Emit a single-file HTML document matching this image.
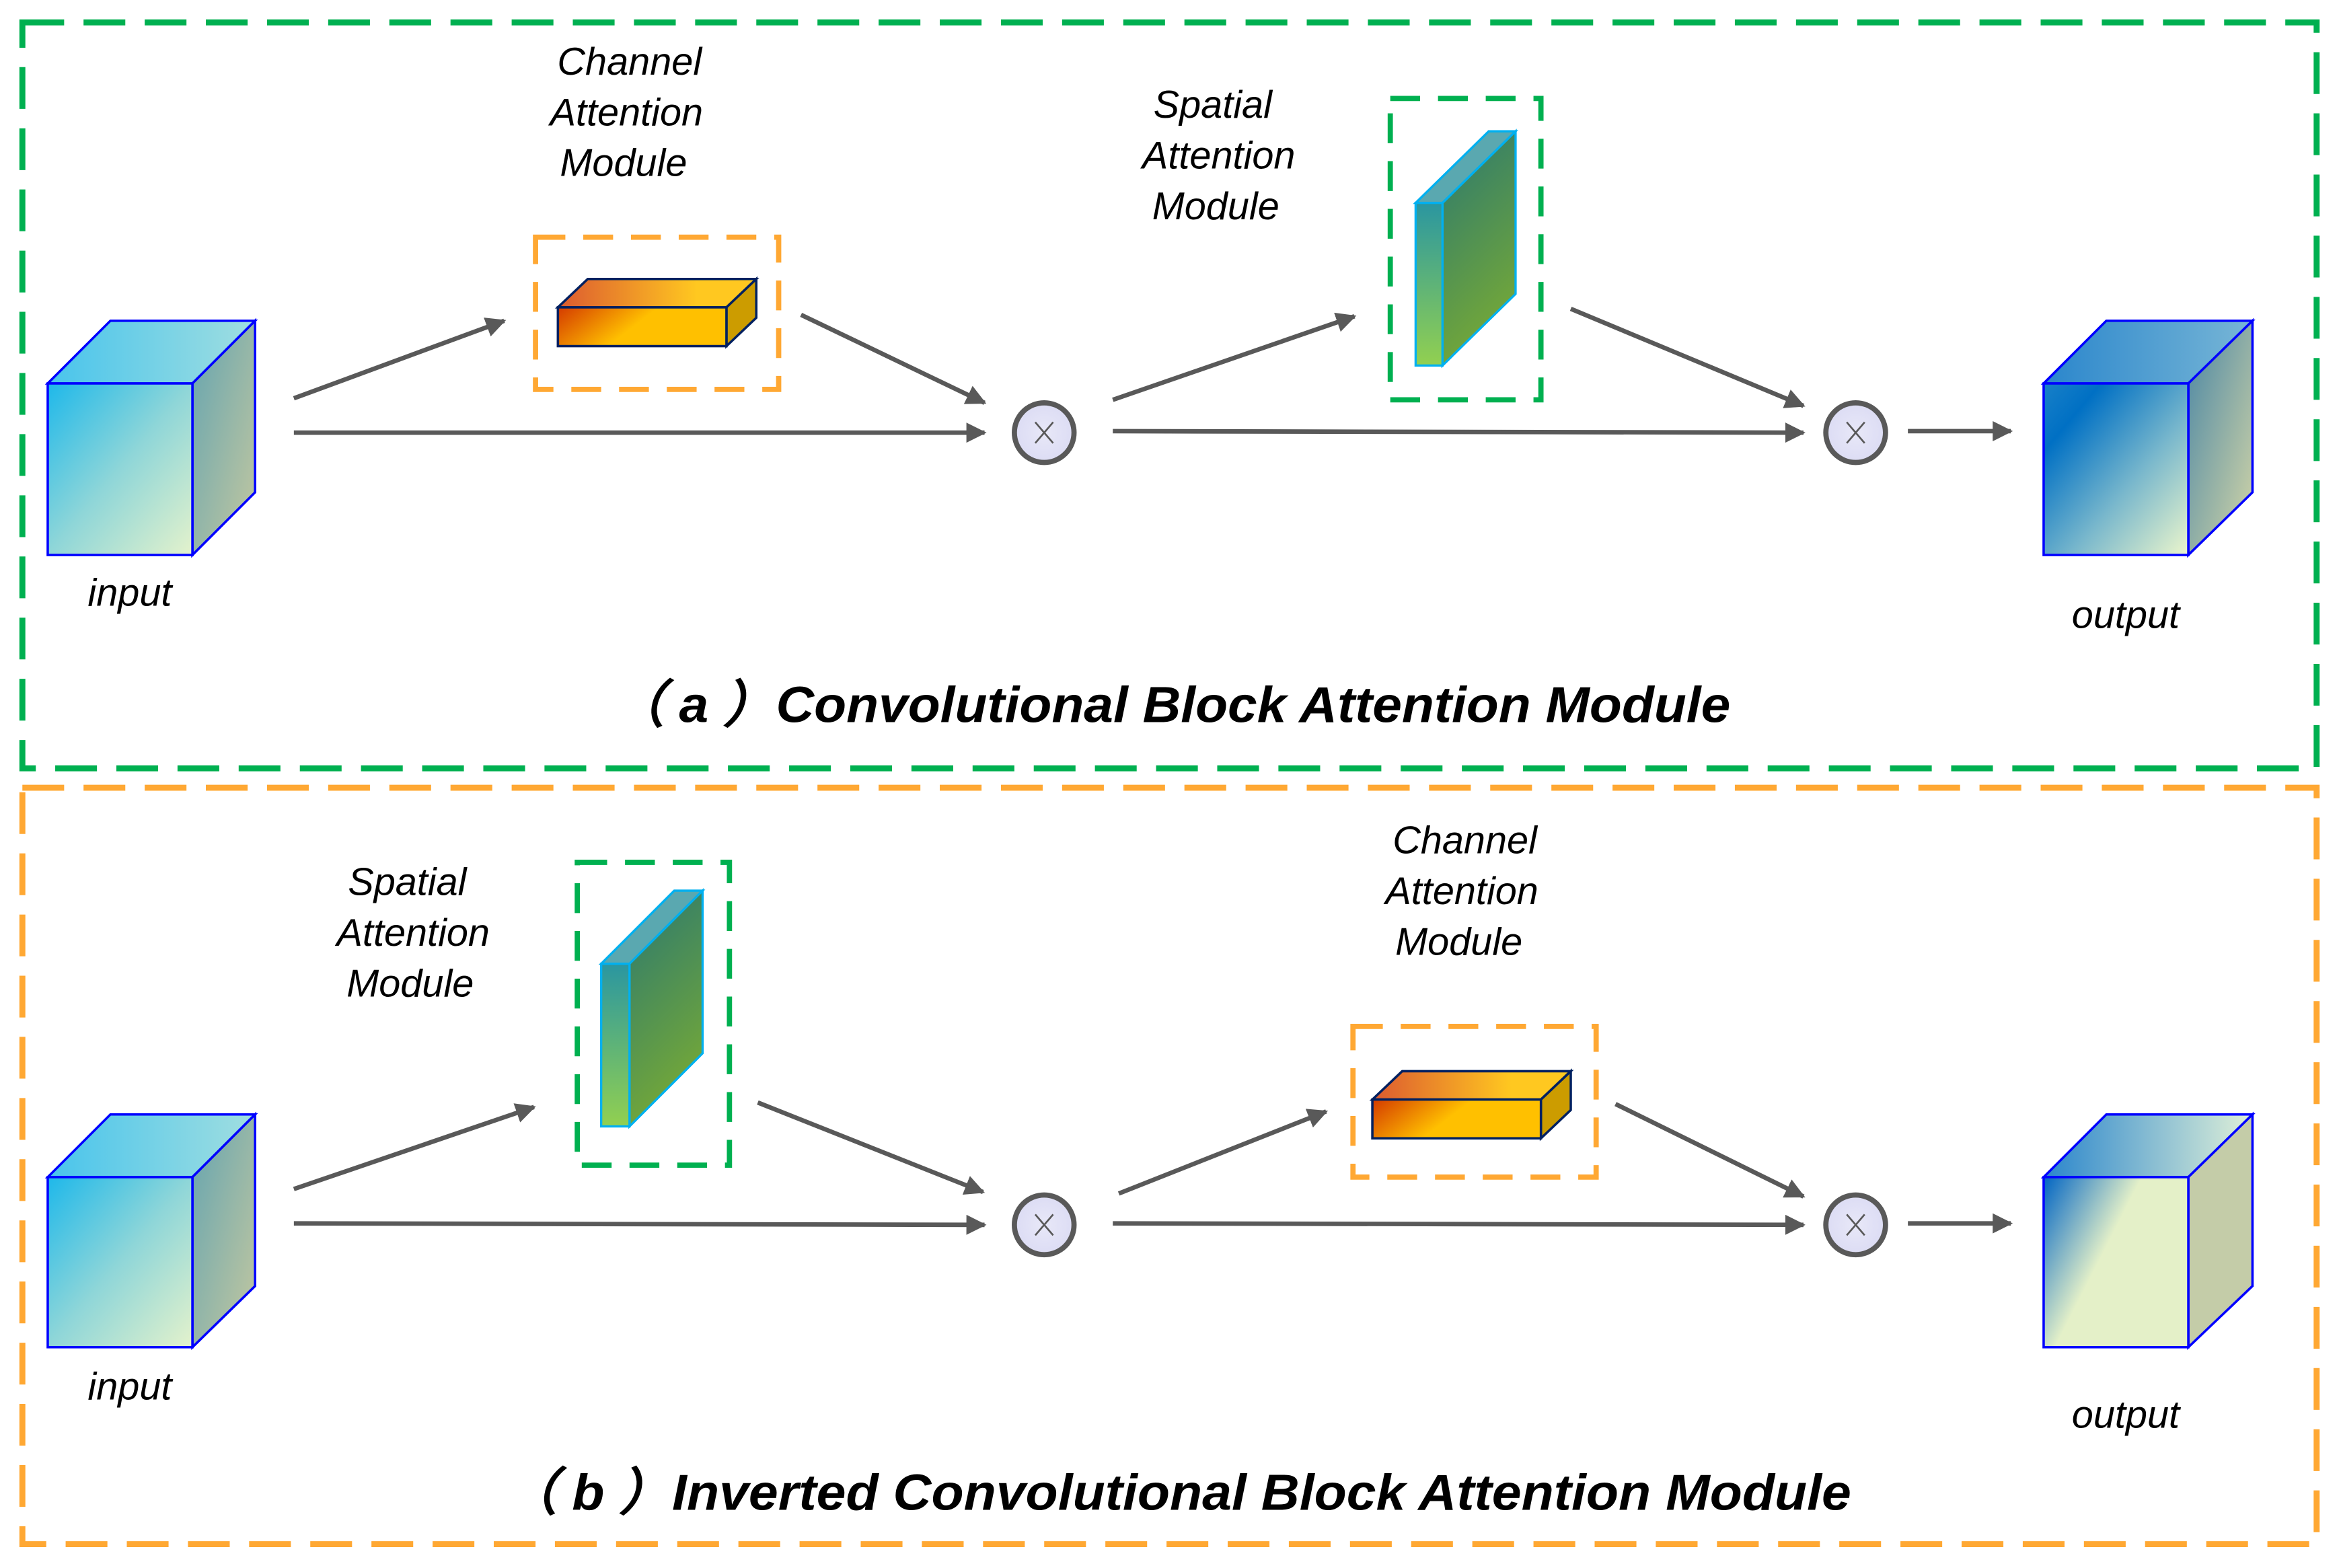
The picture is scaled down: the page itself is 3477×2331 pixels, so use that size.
<!DOCTYPE html>
<html><head><meta charset="utf-8"><style>
html,body{margin:0;padding:0;background:#fff;}
svg{display:block;}
text{font-family:"Liberation Sans",Arial,sans-serif;}
</style></head><body>
<svg width="3477" height="2331" viewBox="0 0 1568 1051" preserveAspectRatio="none" xmlns="http://www.w3.org/2000/svg">
<defs>
<marker id="ah" viewBox="0 0 10 10" refX="9" refY="5" markerWidth="4.5" markerHeight="4.5" orient="auto" markerUnits="strokeWidth">
<path d="M0,0 L10,5 L0,10 z" fill="#595959"/></marker>
<linearGradient id="inF" x1="0" y1="0" x2="1" y2="1"><stop offset="0" stop-color="#1eb8ea"/><stop offset="0.5" stop-color="#8fd6d8"/><stop offset="1" stop-color="#e4f2cc"/></linearGradient>
<linearGradient id="inT" x1="0" y1="0" x2="1" y2="0"><stop offset="0" stop-color="#48c4ec"/><stop offset="1" stop-color="#a0dee0"/></linearGradient>
<linearGradient id="inS" x1="0" y1="0" x2="1" y2="1"><stop offset="0" stop-color="#64a4b0"/><stop offset="1" stop-color="#c4c8a0"/></linearGradient>
<linearGradient id="o1F" x1="0" y1="0" x2="1" y2="1"><stop offset="0" stop-color="#1880c8"/><stop offset="0.2" stop-color="#0070c4"/><stop offset="0.6" stop-color="#7ab8cc"/><stop offset="1" stop-color="#ecf6cc"/></linearGradient>
<linearGradient id="o1T" x1="0" y1="0" x2="1" y2="0"><stop offset="0" stop-color="#2a86cc"/><stop offset="1" stop-color="#78b6d6"/></linearGradient>
<linearGradient id="o1S" x1="0" y1="0" x2="1" y2="1"><stop offset="0" stop-color="#4a86a4"/><stop offset="1" stop-color="#d4d6a8"/></linearGradient>
<linearGradient id="o2F" x1="0" y1="0" x2="1" y2="0.6"><stop offset="0" stop-color="#0064c4"/><stop offset="0.5" stop-color="#e4f0c8"/><stop offset="1" stop-color="#e4f0c8"/></linearGradient>
<linearGradient id="o2T" x1="0" y1="0" x2="1" y2="0"><stop offset="0" stop-color="#2a86cc"/><stop offset="1" stop-color="#e0f0d8"/></linearGradient>
<linearGradient id="caF" x1="0" y1="0" x2="1" y2="0.3"><stop offset="0" stop-color="#d43a00"/><stop offset="0.55" stop-color="#ffc000"/><stop offset="1" stop-color="#ffc000"/></linearGradient>
<linearGradient id="caT" x1="0" y1="0" x2="1" y2="0"><stop offset="0" stop-color="#dc5a30"/><stop offset="0.7" stop-color="#ffc820"/><stop offset="1" stop-color="#ffc820"/></linearGradient>
<linearGradient id="saF" x1="0" y1="0" x2="0" y2="1"><stop offset="0" stop-color="#2a96a0"/><stop offset="1" stop-color="#92d050"/></linearGradient>
<linearGradient id="saS" x1="0" y1="0" x2="0.3" y2="1"><stop offset="0" stop-color="#2a7870"/><stop offset="1" stop-color="#74a838"/></linearGradient>
<radialGradient id="cir"><stop offset="0" stop-color="#e8e8f8"/><stop offset="1" stop-color="#dcdcf4"/></radialGradient>
</defs>

<rect x="15" y="15" width="1538" height="500" fill="none" stroke="#00b050" stroke-width="4" stroke-dasharray="28,13"/>
<rect x="15" y="528" width="1538" height="507" fill="none" stroke="#ffa833" stroke-width="4" stroke-dasharray="28,13"/>

<!-- ===== TOP ===== -->
<g stroke="#0000ff" stroke-width="1.6">
<polygon points="32,257 129,257 171,215 74,215" fill="url(#inT)"/>
<polygon points="129,257 171,215 171,330 129,372" fill="url(#inS)"/>
<rect x="32" y="257" width="97" height="115" fill="url(#inF)"/>
</g>
<text x="87" y="406" font-size="26" font-style="italic" text-anchor="middle">input</text>

<rect x="359" y="159" width="163" height="102" fill="none" stroke="#ffa833" stroke-width="3.5" stroke-dasharray="20,12"/>
<g stroke="#002060" stroke-width="1.6">
<polygon points="374,206 487,206 507,187 394,187" fill="url(#caT)"/>
<polygon points="487,206 507,187 507,213 487,232" fill="#cc9c00"/>
<rect x="374" y="206" width="113" height="26" fill="url(#caF)"/>
</g>
<g font-size="26" font-style="italic" text-anchor="middle">
<text x="422" y="50">Channel</text><text x="420" y="84">Attention</text><text x="418" y="118">Module</text>
<text x="813" y="79">Spatial</text><text x="817" y="113">Attention</text><text x="815" y="147">Module</text>
</g>

<rect x="932" y="66" width="101" height="202" fill="none" stroke="#00b050" stroke-width="3.5" stroke-dasharray="20,12"/>
<g stroke="#00b0f0" stroke-width="1.5">
<polygon points="949,136 967,136 1016,88 998,88" fill="#5aa8b0"/>
<polygon points="967,136 1016,88 1016,197 967,245" fill="url(#saS)"/>
<rect x="949" y="136" width="18" height="109" fill="url(#saF)"/>
</g>

<g stroke="#595959" stroke-width="3" fill="none" marker-end="url(#ah)">
<line x1="197" y1="267" x2="338" y2="215"/>
<line x1="197" y1="290" x2="660" y2="290"/>
<line x1="537" y1="211" x2="660" y2="270"/>
<line x1="746" y1="268" x2="908" y2="212"/>
<line x1="746" y1="289" x2="1209" y2="290"/>
<line x1="1053" y1="207" x2="1209" y2="272"/>
<line x1="1279" y1="289" x2="1348" y2="289"/>
</g>

<g stroke="#595959">
<circle cx="700" cy="290" r="20" fill="url(#cir)" stroke-width="3.5"/>
<path d="M694,283 L706,297 M706,283 L694,297" stroke-width="1.2"/>
<circle cx="1244" cy="290" r="20" fill="url(#cir)" stroke-width="3.5"/>
<path d="M1238,283 L1250,297 M1250,283 L1238,297" stroke-width="1.2"/>
</g>

<g stroke="#0000ff" stroke-width="1.6">
<polygon points="1370,257 1467,257 1510,215 1412,215" fill="url(#o1T)"/>
<polygon points="1467,257 1510,215 1510,330 1467,372" fill="url(#o1S)"/>
<rect x="1370" y="257" width="97" height="115" fill="url(#o1F)"/>
</g>
<text x="1425" y="421" font-size="26" font-style="italic" text-anchor="middle">output</text>

<text x="410" y="484" font-size="34" font-weight="bold" font-style="italic" textLength="750" lengthAdjust="spacingAndGlyphs">（ a ）Convolutional Block Attention Module</text>

<!-- ===== BOTTOM ===== -->
<g stroke="#0000ff" stroke-width="1.6">
<polygon points="32,789 129,789 171,747 74,747" fill="url(#inT)"/>
<polygon points="129,789 171,747 171,862 129,903" fill="url(#inS)"/>
<rect x="32" y="789" width="97" height="114" fill="url(#inF)"/>
</g>
<text x="87" y="938" font-size="26" font-style="italic" text-anchor="middle">input</text>

<rect x="387" y="578" width="102" height="203" fill="none" stroke="#00b050" stroke-width="3.5" stroke-dasharray="20,12"/>
<g stroke="#00b0f0" stroke-width="1.5">
<polygon points="403,646 422,646 471,597 452,597" fill="#5aa8b0"/>
<polygon points="422,646 471,597 471,706 422,755" fill="url(#saS)"/>
<rect x="403" y="646" width="19" height="109" fill="url(#saF)"/>
</g>
<g font-size="26" font-style="italic" text-anchor="middle">
<text x="273" y="600">Spatial</text><text x="277" y="634">Attention</text><text x="275" y="668">Module</text>
<text x="982" y="572">Channel</text><text x="980" y="606">Attention</text><text x="978" y="640">Module</text>
</g>

<rect x="907" y="688" width="163" height="101" fill="none" stroke="#ffa833" stroke-width="3.5" stroke-dasharray="20,12"/>
<g stroke="#002060" stroke-width="1.6">
<polygon points="920,737 1033,737 1053,718 940,718" fill="url(#caT)"/>
<polygon points="1033,737 1053,718 1053,744 1033,763" fill="#cc9c00"/>
<rect x="920" y="737" width="113" height="26" fill="url(#caF)"/>
</g>

<g stroke="#595959" stroke-width="3" fill="none" marker-end="url(#ah)">
<line x1="197" y1="797" x2="358" y2="742"/>
<line x1="197" y1="820" x2="660" y2="821"/>
<line x1="508" y1="739" x2="659" y2="799"/>
<line x1="750" y1="800" x2="889" y2="745"/>
<line x1="746" y1="820" x2="1209" y2="821"/>
<line x1="1083" y1="740" x2="1209" y2="802"/>
<line x1="1279" y1="820" x2="1348" y2="820"/>
</g>

<g stroke="#595959">
<circle cx="700" cy="821" r="20" fill="url(#cir)" stroke-width="3.5"/>
<path d="M694,814 L706,828 M706,814 L694,828" stroke-width="1.2"/>
<circle cx="1244" cy="821" r="20" fill="url(#cir)" stroke-width="3.5"/>
<path d="M1238,814 L1250,828 M1250,814 L1238,828" stroke-width="1.2"/>
</g>

<g stroke="#0000ff" stroke-width="1.6">
<polygon points="1370,789 1467,789 1510,747 1412,747" fill="url(#o2T)"/>
<polygon points="1467,789 1510,747 1510,862 1467,903" fill="#c4cca8"/>
<rect x="1370" y="789" width="97" height="114" fill="url(#o2F)"/>
</g>
<text x="1425" y="957" font-size="26" font-style="italic" text-anchor="middle">output</text>

<text x="338" y="1012" font-size="34" font-weight="bold" font-style="italic" textLength="903" lengthAdjust="spacingAndGlyphs">（ b ）Inverted Convolutional Block Attention Module</text>
</svg>
</body></html>
